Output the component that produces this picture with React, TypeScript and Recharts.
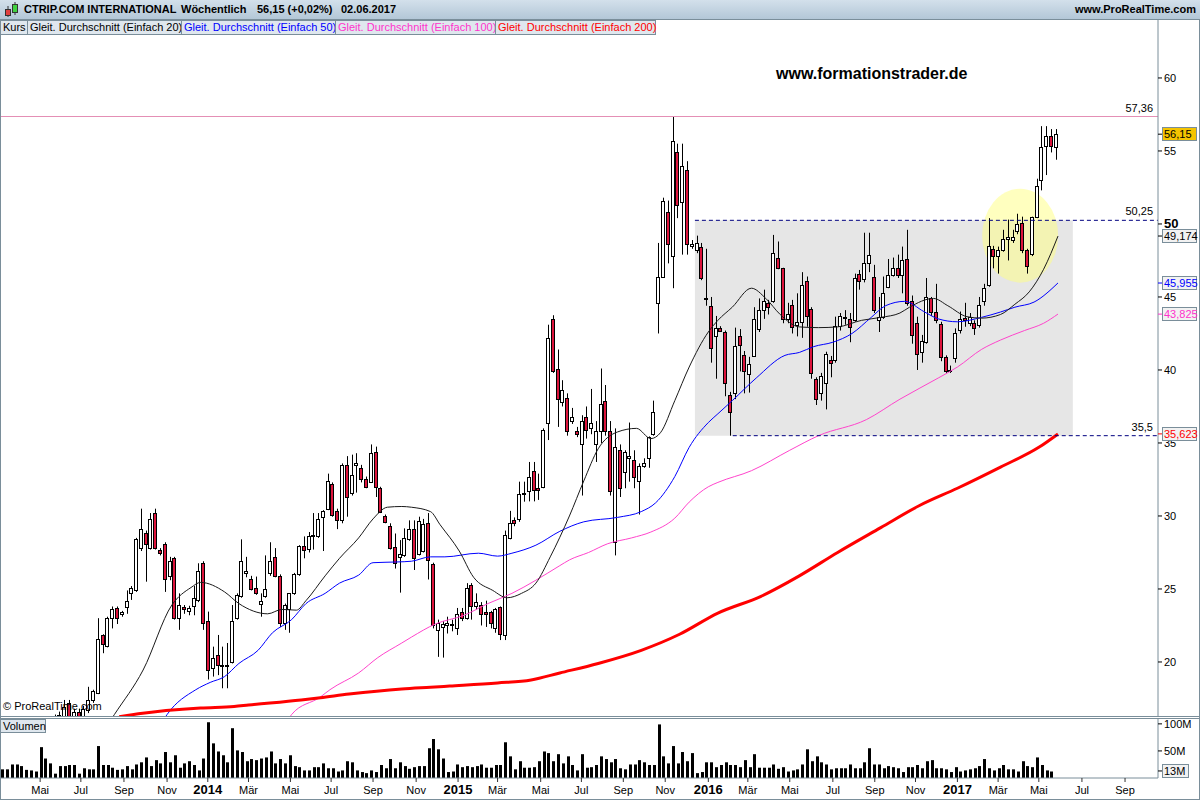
import React from 'react';
import {
  ComposedChart,
  Bar,
  Line,
  XAxis,
  YAxis,
  ReferenceArea,
  ReferenceLine,
  ReferenceDot,
} from 'recharts';

const FONT = '"Liberation Sans", Arial, sans-serif';

// weekly candles, week 0 = week of 11.03.2013, last = 02.06.2017
const opens = [
  15.2, 15.0, 15.3, 15.7, 15.4, 15.0, 14.8, 15.3, 15.6, 15.5, 15.8, 16.0, 15.8, 16.2, 17.2, 16.2, 16.6, 16.3, 16.7, 17.4,
  17.9, 21.85, 21.1, 23.0, 23.7, 23.3, 23.75, 24.7, 24.9, 27.8, 28.8, 27.8, 30.2, 27.7, 28.1, 25.9, 27.1, 23.0, 23.75, 23.5,
  23.8, 24.25, 26.76, 22.8, 19.6, 20.5, 19.8, 19.7, 20.0, 23.0, 24.5, 26.1, 25.7, 25.1, 24.0, 24.5, 26.1, 27.2, 25.9, 22.7,
  23.6, 24.7, 26.0, 27.95, 27.74, 28.6, 28.6, 29.9, 30.5, 32.2, 30.35, 29.7, 33.5, 31.55, 33.5, 33.3, 32.5, 32.35, 34.4, 31.9,
  30.0, 29.3, 27.85, 27.2, 27.3, 28.4, 29.1, 27.4, 27.6, 29.5, 26.7, 22.2, 22.4, 22.5, 22.5, 22.3, 23.45, 23.0, 25.25, 23.8,
  23.9, 23.45, 23.4, 22.3, 23.75, 21.85, 28.5, 29.7, 29.77, 31.55, 31.7, 33.1, 31.95, 32.0, 36.35, 43.5, 40.1, 37.8, 38.1, 36.5,
  35.8, 34.9, 36.75, 36.0, 34.9, 35.8, 37.9, 35.8, 28.2, 34.5, 33.0, 34.0, 33.8, 32.4, 33.45, 33.95, 35.6, 44.6, 46.4, 50.8,
  47.8, 54.9, 51.5, 53.7, 48.5, 48.2, 48.45, 44.95, 44.4, 42.3, 42.9, 42.6, 38.3, 38.45, 42.3, 41.0, 39.7, 40.96, 42.8, 44.1,
  44.6, 44.75, 47.7, 46.96, 43.5, 44.45, 43.1, 43.3, 46.1, 44.2, 39.4, 38.45, 39.1, 40.7, 40.7, 43.0, 43.6, 43.5, 43.4, 46.55,
  46.2, 47.35, 46.4, 43.4, 43.6, 45.7, 46.5, 46.96, 46.5, 47.6, 44.7, 43.2, 41.25, 41.9, 44.9, 44.0, 43.15, 40.9, 39.95, 40.8,
  42.75, 43.55, 43.25, 43.25, 43.1, 44.7, 45.8, 48.3, 47.8, 48.2, 49.0, 48.9, 49.5, 50.05, 48.2, 47.95, 50.5, 53.0, 55.35, 56.0,
  55.3,
];
const highs = [
  15.6, 15.4, 15.9, 16.0, 15.6, 15.3, 15.5, 15.8, 16.2, 15.9, 16.3, 16.4, 16.6, 17.4, 17.4, 16.8, 16.8, 17.0, 18.3, 18.1,
  23.0, 21.9, 23.1, 23.8, 23.8, 23.5, 24.9, 25.2, 28.5, 30.5, 29.0, 30.2, 30.5, 27.8, 28.2, 27.2, 27.2, 24.7, 23.9, 23.85,
  25.2, 26.76, 26.9, 23.45, 21.05, 21.85, 21.05, 21.3, 23.9, 24.7, 28.4, 27.2, 25.9, 25.85, 24.7, 27.3, 28.2, 27.8, 26.0, 24.0,
  24.7, 26.1, 28.0, 28.6, 28.9, 30.2, 30.2, 30.4, 32.9, 32.3, 30.5, 33.6, 34.1, 34.2, 34.3, 33.5, 32.7, 34.9, 34.75, 32.0,
  30.1, 29.5, 28.8, 28.35, 29.15, 29.7, 29.7, 29.95, 29.8, 30.2, 26.8, 22.9, 22.8, 23.1, 22.9, 23.7, 23.7, 25.4, 25.4, 24.7,
  24.1, 24.2, 23.5, 23.7, 23.8, 29.0, 30.35, 29.9, 32.35, 32.35, 33.7, 33.7, 32.9, 36.0, 43.1, 43.75, 41.4, 39.3, 38.4, 37.4,
  36.1, 36.9, 37.5, 38.7, 36.5, 40.1, 38.97, 36.5, 36.0, 34.9, 34.5, 36.4, 34.5, 33.6, 33.95, 35.45, 37.9, 48.7, 51.8, 51.6,
  57.36, 55.5, 55.5, 54.3, 48.9, 49.2, 48.7, 48.3, 45.0, 43.7, 43.0, 42.7, 38.5, 42.9, 42.8, 41.3, 40.9, 44.3, 44.9, 45.5,
  44.8, 49.25, 48.8, 47.0, 44.6, 44.8, 45.25, 46.7, 46.4, 44.3, 39.5, 39.8, 41.25, 40.96, 43.65, 43.9, 44.1, 43.9, 46.6, 46.85,
  49.4, 49.4, 47.2, 45.0, 46.4, 47.6, 47.7, 47.9, 48.45, 49.6, 45.1, 43.65, 42.4, 46.3, 45.0, 45.9, 43.3, 41.0, 40.3, 42.85,
  44.0, 44.6, 43.9, 43.4, 45.0, 45.9, 50.4, 48.5, 48.45, 49.6, 50.3, 49.6, 50.7, 50.5, 48.3, 50.5, 53.1, 56.7, 56.7, 56.5,
  56.5,
];
const lows = [
  14.9, 14.6, 15.1, 15.2, 14.8, 14.5, 14.6, 15.0, 15.2, 15.0, 15.5, 15.6, 15.6, 15.9, 16.0, 16.0, 16.1, 16.2, 16.5, 17.2,
  17.8, 20.6, 21.0, 22.3, 22.6, 23.1, 23.3, 24.25, 24.8, 27.6, 25.5, 27.7, 27.7, 27.3, 24.8, 25.6, 22.9, 22.2, 23.3, 23.2,
  23.2, 24.1, 22.2, 18.8, 19.0, 19.1, 18.2, 18.2, 19.9, 22.9, 24.4, 25.8, 24.9, 24.6, 23.1, 24.4, 25.9, 25.8, 22.4, 22.2,
  22.0, 24.6, 25.9, 27.1, 27.5, 27.7, 28.5, 27.6, 30.4, 29.95, 29.1, 29.5, 29.95, 31.4, 31.6, 32.3, 31.9, 32.3, 31.3, 30.2,
  29.5, 27.7, 26.4, 24.75, 27.2, 28.3, 26.3, 27.3, 27.5, 25.65, 22.3, 20.35, 20.3, 21.95, 22.1, 21.85, 22.8, 22.9, 22.9, 23.6,
  22.5, 22.4, 22.3, 22.0, 21.5, 21.5, 28.4, 29.3, 29.6, 30.98, 31.0, 31.0, 31.1, 31.9, 35.2, 39.8, 36.1, 37.5, 35.5, 36.3,
  35.4, 31.4, 35.3, 35.6, 33.7, 35.0, 35.5, 31.4, 27.3, 31.3, 31.9, 32.35, 31.9, 30.1, 33.3, 33.3, 35.5, 42.5, 46.3, 47.3,
  45.6, 50.4, 47.9, 47.9, 48.3, 48.0, 46.15, 44.4, 40.5, 39.4, 42.6, 38.2, 35.5, 38.0, 39.9, 38.4, 38.45, 40.9, 42.6, 43.5,
  43.8, 44.6, 46.9, 43.2, 43.2, 42.5, 42.3, 42.2, 42.96, 39.4, 37.6, 37.9, 37.3, 39.5, 40.5, 42.7, 43.1, 41.9, 43.3, 45.5,
  46.0, 46.7, 43.9, 42.6, 43.5, 45.6, 46.4, 46.3, 45.25, 44.4, 41.8, 40.0, 40.5, 41.8, 43.7, 43.2, 40.6, 39.8, 39.8, 40.5,
  42.5, 42.96, 43.0, 42.4, 42.9, 44.4, 45.7, 46.96, 46.6, 48.1, 47.5, 48.7, 49.3, 48.0, 46.6, 47.8, 50.4, 52.3, 53.35, 54.9,
  54.4,
];
const closes = [
  15.0, 15.3, 15.7, 15.4, 15.0, 14.8, 15.3, 15.6, 15.5, 15.8, 16.0, 15.8, 16.4, 16.9, 16.2, 16.6, 16.3, 16.8, 17.4, 18.0,
  21.6, 21.2, 23.0, 23.6, 23.0, 23.4, 24.2, 25.05, 28.4, 29.1, 28.1, 29.8, 27.8, 27.45, 25.7, 26.95, 23.0, 23.9, 23.6, 23.7,
  24.4, 26.2, 22.7, 19.45, 20.25, 19.8, 19.7, 19.8, 22.8, 24.6, 26.9, 26.2, 24.98, 24.7, 24.2, 24.98, 26.9, 25.9, 22.7, 23.9,
  24.7, 26.0, 27.97, 27.7, 28.6, 28.7, 29.8, 30.35, 32.4, 30.1, 29.7, 33.5, 31.3, 32.8, 33.6, 32.5, 32.0, 34.3, 31.96, 30.25,
  29.6, 27.8, 26.8, 27.4, 28.5, 29.1, 27.1, 29.65, 29.45, 27.0, 22.5, 22.7, 22.6, 22.7, 22.6, 23.3, 23.0, 25.05, 23.8, 24.1,
  23.3, 23.3, 22.7, 23.65, 21.95, 28.7, 29.5, 29.5, 31.5, 31.5, 32.7, 31.8, 31.8, 35.9, 42.2, 39.9, 38.0, 38.6, 35.8, 36.8,
  35.6, 36.5, 35.9, 36.4, 35.8, 37.7, 35.8, 31.7, 34.7, 31.9, 34.4, 34.1, 32.65, 33.4, 33.6, 35.4, 37.1, 46.4, 51.6, 48.6,
  55.7, 51.3, 54.0, 48.6, 48.6, 48.7, 46.3, 44.9, 41.5, 42.85, 42.7, 39.1, 37.1, 41.65, 41.7, 39.95, 40.4, 43.5, 44.1, 44.75,
  44.3, 47.99, 47.0, 43.5, 43.8, 42.97, 43.3, 45.8, 43.7, 39.8, 38.0, 39.6, 41.1, 40.5, 43.0, 43.7, 43.65, 42.97, 46.3, 46.1,
  47.35, 47.9, 44.1, 43.6, 45.3, 46.5, 47.0, 46.5, 47.5, 44.6, 42.4, 41.1, 42.0, 44.98, 44.0, 43.4, 40.9, 39.95, 40.0, 42.5,
  43.5, 43.4, 43.6, 42.85, 44.45, 45.6, 48.5, 47.8, 48.2, 49.0, 49.1, 49.1, 50.0, 48.2, 47.1, 50.5, 52.6, 55.25, 56.0, 55.35,
  56.15,
];
// volume in millions, last week not shown
const volumes = [
  16, 16, 25, 25, 22, 15, 14, 12, 57, 36, 27, 8, 22, 22, 24, 24, 8, 18, 16, 16,
  59, 24, 24, 19, 15, 16, 22, 16, 25, 29, 38, 22, 33, 27, 48, 29, 42, 19, 27, 31,
  24, 14, 36, 103, 64, 49, 42, 29, 92, 51, 48, 31, 35, 33, 36, 38, 49, 27, 35, 27,
  42, 22, 20, 14, 14, 20, 20, 27, 18, 18, 12, 14, 31, 29, 14, 11, 9, 14, 11, 24,
  18, 35, 18, 29, 22, 17, 20, 22, 22, 55, 72, 53, 36, 11, 12, 25, 20, 22, 20, 22,
  25, 19, 19, 24, 24, 66, 40, 16, 31, 19, 19, 20, 31, 49, 46, 31, 44, 27, 40, 24,
  14, 44, 19, 20, 24, 40, 35, 29, 35, 18, 16, 25, 25, 33, 29, 24, 24, 99, 40, 27,
  59, 27, 48, 31, 46, 9, 11, 29, 29, 20, 24, 29, 24, 24, 20, 33, 20, 44, 19, 19,
  19, 25, 17, 20, 12, 14, 16, 25, 53, 31, 40, 29, 25, 16, 18, 18, 18, 25, 18, 18,
  29, 55, 25, 25, 18, 22, 20, 18, 11, 20, 20, 24, 18, 31, 33, 18, 18, 16, 11, 20,
  12, 14, 16, 18, 22, 35, 18, 14, 18, 24, 16, 16, 12, 31, 22, 20, 38, 24, 14, 12,
  null,
];

// moving averages read at [week, value]
const ma20Pts = [
  [20, 14.9], [23, 16.4], [29, 19.45], [35, 23.9], [39, 25.1], [41, 25.45], [46, 24.8], [49, 24.0], [55, 23.3], [58, 23.6],
  [61, 23.55], [63, 24.2], [67, 25.9], [70, 27.1], [74, 28.5], [77, 29.8], [80, 30.6], [83, 30.65], [85, 30.6], [89, 30.3],
  [91, 29.4], [95, 27.6], [98, 25.8], [102, 24.9], [105, 24.4], [108, 24.7], [111, 25.4], [114, 27.2], [118, 30.0], [121, 32.4],
  [124, 34.6], [128, 35.75], [132, 36.0], [135, 35.3], [137, 35.7], [140, 37.9], [143, 40.2], [147, 42.6], [149, 43.4], [152, 44.3],
  [156, 45.6], [159, 44.9], [162, 43.8], [166, 42.95], [170, 42.9], [174, 42.95], [179, 43.4], [183, 43.6], [187, 43.9], [189, 44.3],
  [194, 44.9], [197, 44.4], [201, 43.65], [204, 43.55], [208, 43.8], [211, 44.5], [214, 45.35], [217, 46.9], [220, 49.17],
];
const ma50Pts = [
  [33, 15.9], [34, 16.4], [40, 18.1], [43, 18.6], [46, 19.0], [49, 19.9], [53, 20.8], [56, 22.0], [60, 22.9], [63, 24.0],
  [67, 24.7], [70, 25.4], [74, 25.95], [77, 26.8], [82, 26.85], [85, 26.9], [89, 27.2], [92, 27.2], [99, 27.45], [103, 27.25],
  [106, 27.45], [111, 28.0], [116, 28.95], [121, 29.6], [128, 29.9], [133, 30.3], [136, 30.9], [140, 32.7], [143, 34.7], [147, 36.4],
  [149, 37.0], [152, 37.9], [157, 39.45], [163, 41.0], [166, 41.2], [169, 41.6], [173, 41.9], [177, 42.5], [181, 43.6], [184, 44.4],
  [188, 44.7], [192, 44.0], [195, 43.5], [199, 43.3], [204, 43.6], [208, 43.97], [211, 44.3], [215, 44.65], [220, 45.96],
];
const ma100Pts = [
  [59, 15.9], [60, 16.4], [66, 17.6], [68, 18.1], [74, 19.25], [78, 20.3], [83, 21.3], [85, 21.7], [90, 22.6], [96, 23.2],
  [101, 24.0], [106, 24.7], [111, 25.6], [116, 26.6], [118, 26.99], [122, 27.5], [126, 28.1], [131, 28.5], [135, 28.9], [140, 29.85],
  [143, 30.95], [147, 32.0], [149, 32.3], [156, 33.1], [164, 34.5], [170, 35.5], [180, 36.6], [187, 38.0], [195, 39.45], [199, 40.2],
  [204, 41.4], [208, 42.05], [213, 42.7], [217, 43.2], [220, 43.83],
];
const ma200Pts = [
  [24, 16.25], [26, 16.35], [28, 16.45], [41, 16.85], [48, 16.95], [51, 17.05], [62, 17.4], [66, 17.55], [72, 17.8], [83, 18.15],
  [89, 18.27], [93, 18.35], [103, 18.56], [110, 18.77], [116, 19.25], [124, 19.9], [133, 20.8], [141, 21.9], [149, 23.35], [158, 24.5],
  [166, 25.9], [174, 27.5], [183, 29.2], [191, 30.7], [199, 31.9], [208, 33.35], [216, 34.7], [220, 35.62],
];

const monthStarts = [
  '2013-05-01', '2013-07-01', '2013-09-01', '2013-11-01', '2014-01-01', '2014-03-01', '2014-05-01', '2014-07-01', '2014-09-01',
  '2014-11-01', '2015-01-01', '2015-03-01', '2015-05-01', '2015-07-01', '2015-09-01', '2015-11-01', '2016-01-01', '2016-03-01',
  '2016-05-01', '2016-07-01', '2016-09-01', '2016-11-01', '2017-01-01', '2017-03-01', '2017-05-01', '2017-07-01', '2017-09-01',
];
const monthLabels = [
  'Mai', 'Jul', 'Sep', 'Nov', '2014', 'Mär', 'Mai', 'Jul', 'Sep', 'Nov', '2015', 'Mär', 'Mai', 'Jul',
  'Sep', 'Nov', '2016', 'Mär', 'Mai', 'Jul', 'Sep', 'Nov', '2017', 'Mär', 'Mai', 'Jul', 'Sep',
];

const priceTicks = [20, 25, 30, 35, 40, 45, 50, 55, 60];
const priceBadges = [
  { value: 35.623, text: '35,623', color: '#ff0000', bg: '#f2f2f2' },
  { value: 43.825, text: '43,825', color: '#ff33cc', bg: '#f2f2f2' },
  { value: 45.955, text: '45,955', color: '#0000ff', bg: '#f2f2f2' },
  { value: 49.174, text: '49,174', color: '#000000', bg: '#f2f2f2' },
  { value: 56.15, text: '56,15', color: '#000000', bg: '#f5c400' },
];
const volTicks = [50, 100];
const volBadge = { value: 13, text: '13M' };

// consolidation box and highlight circle (annotations)
const boxWeeks = [144.2, 223.1];
const boxPrices = [35.5, 50.25];
const circleCenter = { week: 212.1, price: 49.2 };

const firstMonday = Date.UTC(2013, 2, 11);
const tickPos = monthStarts.map((s) => {
  const [yy, mm, dd] = s.split('-').map(Number);
  let days = Math.round((Date.UTC(yy, mm - 1, dd) - firstMonday) / 86400000);
  let wd = days % 7;
  if (wd > 4) {
    days += 7 - wd;
    wd = 0;
  }
  return Math.floor(days / 7) + wd / 4;
});

const toMap = (pts: number[][]) => new Map(pts.map(([k, v]) => [k, v]));
const m20 = toMap(ma20Pts);
const m50 = toMap(ma50Pts);
const m100 = toMap(ma100Pts);
const m200 = toMap(ma200Pts);

const rows = opens.map((o, i) => ({
  i,
  open: o,
  high: highs[i],
  low: lows[i],
  close: closes[i],
  vol: volumes[i],
  ma20: m20.get(i),
  ma50: m50.get(i),
  ma100: m100.get(i),
  ma200: m200.get(i),
}));

const X_DOMAIN = [-0.88, 240.88];
const Y_DOMAIN = [16.3, 63.97];
const AXIS_GREY = '#7a8e9a';

const Candle = (props: any) => {
  const { x, y, width, height, payload } = props;
  if (!payload || x == null || y == null || height == null) return <g />;
  const top = Math.min(y, y + height);
  const h = Math.abs(height);
  const { open, close, high, low } = payload;
  const span = high - low;
  const py = (v: number) => (span > 0 ? top + ((high - v) / span) * h : top);
  const cx = Math.round(x + width / 2);
  const bTop = Math.round(py(Math.max(open, close)));
  const bBot = Math.round(py(Math.min(open, close)));
  const up = close >= open;
  return (
    <g>
      <line x1={cx - 1.5} x2={cx - 1.5} y1={top} y2={top + h} stroke="#000" strokeWidth={1} />
      <rect
        x={cx - 3.5}
        y={bTop + 0.5}
        width={3}
        height={Math.max(1, bBot - bTop)}
        fill={up ? '#ffffff' : '#dc143c'}
        stroke="#000"
        strokeWidth={1}
      />
    </g>
  );
};

const VolBar = (props: any) => {
  const { x, y, width, height } = props;
  if (x == null || !height) return <g />;
  const cx = Math.round(x + width / 2);
  return <rect x={cx - 3} y={y} width={3} height={height} fill="#000" />;
};

const PriceTick = (props: any) => {
  const { x, y, payload } = props;
  const v = payload.value;
  const badge = priceBadges.find((b) => b.value === v);
  if (badge) {
    return (
      <g>
        <line x1={x} x2={x + 4} y1={y} y2={y} stroke={badge.color} />
        <rect x={x + 4.5} y={Math.round(y) - 6.5} width={34} height={13} fill={badge.bg} stroke={AXIS_GREY} />
        <text x={x + 6} y={y + 4} fontSize={11} fontFamily={FONT} fill={badge.color}>
          {badge.text}
        </text>
      </g>
    );
  }
  const bold = v === 50;
  return (
    <g>
      <line x1={x} x2={x + 4} y1={y} y2={y} stroke="#000" />
      <text
        x={x + 6}
        y={y + 4}
        fontSize={bold ? 13 : 11}
        fontWeight={bold ? 'bold' : 'normal'}
        fontFamily={FONT}
        fill="#000"
      >
        {v}
      </text>
    </g>
  );
};

const VolTick = (props: any) => {
  const { x, y, payload } = props;
  const v = payload.value;
  if (v === volBadge.value) {
    return (
      <g>
        <line x1={x} x2={x + 4} y1={y} y2={y} stroke="#000" />
        <rect x={x + 4.5} y={Math.round(y) - 6.5} width={26} height={13} fill="#f2f2f2" stroke={AXIS_GREY} />
        <text x={x + 6} y={y + 4} fontSize={11} fontFamily={FONT} fill="#000">
          {volBadge.text}
        </text>
      </g>
    );
  }
  return (
    <g>
      <line x1={x} x2={x + 4} y1={y} y2={y} stroke="#000" />
      <text x={x + 6} y={y + 4} fontSize={11} fontFamily={FONT} fill="#000">
        {v}M
      </text>
    </g>
  );
};

const MonthTick = (props: any) => {
  const { x, y, payload } = props;
  const k = tickPos.findIndex((p) => Math.abs(p - payload.value) < 1e-6);
  const label = k >= 0 ? monthLabels[k] : '';
  const isYear = /^\d{4}$/.test(label);
  return (
    <text
      x={x}
      y={y + 12}
      textAnchor="middle"
      fontSize={isYear ? 13 : 11}
      fontWeight={isYear ? 'bold' : 'normal'}
      fontFamily={FONT}
      fill="#000"
    >
      {label}
    </text>
  );
};

const legendItems = [
  { text: 'Kurs', color: '#000', w: 28 },
  { text: 'Gleit. Durchschnitt (Einfach 20)', color: '#000', w: 155 },
  { text: 'Gleit. Durchschnitt (Einfach 50)', color: '#0000ff', w: 155 },
  { text: 'Gleit. Durchschnitt (Einfach 100)', color: '#ff33cc', w: 161 },
  { text: 'Gleit. Durchschnitt (Einfach 200)', color: '#ff0000', w: 161 },
];

const hLine = (top: number, left = 0, width = 1200) => (
  <div style={{ position: 'absolute', top, left, width, height: 1, background: AXIS_GREY }} />
);

const labelStyle = { fontSize: 11, fill: '#000', fontFamily: FONT };

export default function App() {
  return (
    <div
      style={{
        position: 'fixed',
        left: 0,
        top: 0,
        width: 1200,
        height: 800,
        background: '#fff',
        overflow: 'hidden',
        fontFamily: FONT,
      }}
    >
      {/* header */}
      <div
        style={{
          position: 'absolute',
          left: 0,
          top: 0,
          width: 1200,
          height: 19,
          background: 'linear-gradient(#d3e0eb, #b3c7d7)',
          borderBottom: `1px solid ${AXIS_GREY}`,
          fontSize: 11,
          fontWeight: 'bold',
          color: '#000',
        }}
      >
        <svg width={18} height={18} style={{ position: 'absolute', left: 3, top: 1 }}>
          <line x1={5} x2={5} y1={5} y2={16} stroke="#333" />
          <rect x={2.5} y={8.5} width={5} height={6} fill="#e04040" stroke="#333" />
          <line x1={12} x2={12} y1={1} y2={14} stroke="#333" />
          <rect x={9.5} y={3.5} width={5} height={8} fill="#40d040" stroke="#333" />
        </svg>
        <span style={{ position: 'absolute', left: 24, top: 3 }}>CTRIP.COM INTERNATIONAL</span>
        <span style={{ position: 'absolute', left: 181, top: 3 }}>Wöchentlich</span>
        <span style={{ position: 'absolute', left: 257, top: 3 }}>56,15 (+0,02%)</span>
        <span style={{ position: 'absolute', left: 341, top: 3 }}>02.06.2017</span>
        <span style={{ position: 'absolute', right: 4, top: 3 }}>www.ProRealTime.com</span>
      </div>

      {/* price panel: background annotations */}
      <div style={{ position: 'absolute', left: 0, top: 20 }}>
        <ComposedChart width={1200} height={696} data={rows} margin={{ top: 0, right: 42, bottom: 0, left: 0 }}>
          <XAxis type="number" dataKey="i" domain={X_DOMAIN} allowDataOverflow hide />
          <YAxis domain={Y_DOMAIN} allowDataOverflow hide />
          <ReferenceArea
            x1={boxWeeks[0]}
            x2={boxWeeks[1]}
            y1={boxPrices[0]}
            y2={boxPrices[1]}
            fill="#e6e6e6"
            fillOpacity={1}
            stroke="none"
          />
          <ReferenceDot
            x={circleCenter.week}
            y={circleCenter.price}
            r={40}
            shape={(p: any) => <ellipse cx={p.cx} cy={p.cy} rx={38} ry={47} fill="#ffff80" fillOpacity={0.5} />}
          />
        </ComposedChart>
      </div>

      {/* price panel: candles and averages */}
      <div style={{ position: 'absolute', left: 0, top: 20 }}>
        <ComposedChart width={1200} height={696} data={rows} margin={{ top: 0, right: 0, bottom: 0, left: 0 }}>
          <XAxis type="number" dataKey="i" domain={X_DOMAIN} allowDataOverflow hide />
          <YAxis
            orientation="right"
            width={42}
            domain={Y_DOMAIN}
            allowDataOverflow
            ticks={[...priceTicks, ...priceBadges.map((b) => b.value)]}
            interval={0}
            tickSize={0}
            tickMargin={0}
            tickLine={false}
            axisLine={{ stroke: AXIS_GREY }}
            tick={PriceTick}
          />
          <Bar dataKey={(d: any) => [d.low, d.high]} shape={Candle} barSize={5} isAnimationActive={false} />
          <Line dataKey="ma100" type="monotone" stroke="#ff44cc" strokeWidth={1} dot={false} connectNulls isAnimationActive={false} />
          <Line dataKey="ma50" type="monotone" stroke="#0000ff" strokeWidth={1} dot={false} connectNulls isAnimationActive={false} />
          <Line dataKey="ma20" type="monotone" stroke="#1a1a1a" strokeWidth={1} dot={false} connectNulls isAnimationActive={false} />
          <Line dataKey="ma200" type="monotone" stroke="#ff0000" strokeWidth={3} dot={false} connectNulls isAnimationActive={false} />
          <ReferenceLine
            y={57.36}
            stroke="#e48fb5"
            label={{ value: '57,36', position: 'insideBottomRight', ...labelStyle }}
          />
          <ReferenceLine
            segment={[{ x: boxWeeks[0], y: boxPrices[1] }, { x: X_DOMAIN[1], y: boxPrices[1] }]}
            stroke="#000080"
            strokeDasharray="4 3"
            label={{ value: '50,25', position: 'insideBottomRight', ...labelStyle }}
          />
          <ReferenceLine
            segment={[{ x: 152.1, y: boxPrices[0] }, { x: X_DOMAIN[1], y: boxPrices[0] }]}
            stroke="#000080"
            strokeDasharray="4 3"
            label={{ value: '35,5', position: 'insideBottomRight', ...labelStyle }}
          />
        </ComposedChart>
      </div>

      {/* legend row */}
      <div style={{ position: 'absolute', left: 0, top: 20, height: 16, display: 'flex' }}>
        {legendItems.map((it, k) => (
          <div
            key={it.text}
            style={{
              width: it.w,
              height: 15,
              boxSizing: 'border-box',
              border: `1px solid ${AXIS_GREY}`,
              marginLeft: k === 0 ? 0 : -1,
              background: '#dfe7ee',
              color: it.color,
              fontSize: 11,
              lineHeight: '13px',
              paddingLeft: 2,
              whiteSpace: 'nowrap',
            }}
          >
            {it.text}
          </div>
        ))}
      </div>

      <div style={{ position: 'absolute', left: 776, top: 65, fontSize: 16, fontWeight: 'bold', color: '#000' }}>
        www.formationstrader.de
      </div>
      <div style={{ position: 'absolute', left: 3, top: 700, fontSize: 11, color: '#000' }}>© ProRealTime.com</div>

      {/* volume panel */}
      <div style={{ position: 'absolute', left: 0, top: 719 }}>
        <ComposedChart width={1200} height={81} data={rows} margin={{ top: 0, right: 0, bottom: 0, left: 0 }}>
          <XAxis
            type="number"
            dataKey="i"
            domain={X_DOMAIN}
            allowDataOverflow
            ticks={tickPos}
            interval={0}
            height={22}
            tickSize={4}
            tickMargin={0}
            tickLine={{ stroke: '#333' }}
            axisLine={{ stroke: AXIS_GREY }}
            tick={MonthTick}
          />
          <YAxis
            orientation="right"
            width={42}
            domain={[0, 109]}
            allowDataOverflow
            ticks={[...volTicks, volBadge.value]}
            interval={0}
            tickSize={0}
            tickMargin={0}
            tickLine={false}
            axisLine={{ stroke: AXIS_GREY }}
            tick={VolTick}
          />
          <Bar dataKey="vol" shape={VolBar} barSize={3} isAnimationActive={false} />
        </ComposedChart>
      </div>

      {/* panel frames */}
      {hLine(716)}
      {hLine(718)}
      {hLine(799)}
      <div style={{ position: 'absolute', left: 0, top: 20, width: 1, height: 780, background: AXIS_GREY }} />
      <div style={{ position: 'absolute', left: 1199, top: 20, width: 1, height: 780, background: AXIS_GREY }} />
      <div
        style={{
          position: 'absolute',
          left: 0,
          top: 719,
          width: 46,
          height: 14,
          boxSizing: 'border-box',
          border: `1px solid ${AXIS_GREY}`,
          background: '#dfe7ee',
          fontSize: 11,
          lineHeight: '12px',
          paddingLeft: 2,
        }}
      >
        Volumen
      </div>
    </div>
  );
}
